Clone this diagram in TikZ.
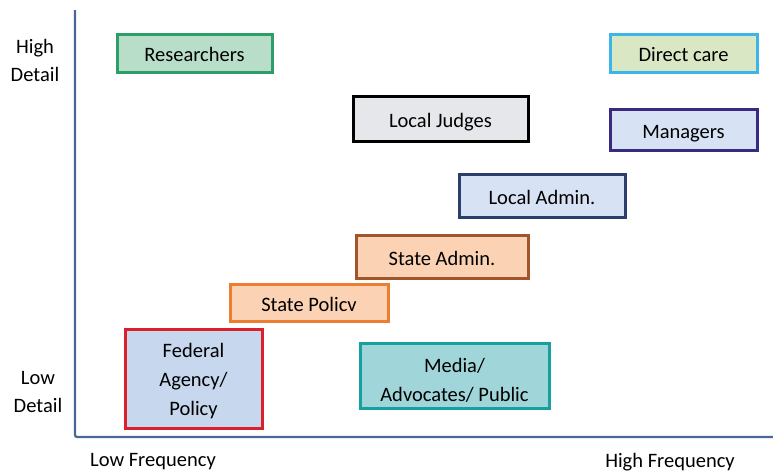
\documentclass[tikz,border=0pt]{standalone}
\usepackage{fontspec}
\setmainfont{Carlito}
\usetikzlibrary{positioning}
\definecolor{axisBlue}{RGB}{74,104,150}
\definecolor{resLine}{RGB}{46,158,104}
\definecolor{resFill}{RGB}{184,222,202}
\definecolor{careLine}{RGB}{60,182,232}
\definecolor{careFill}{RGB}{218,231,196}
\definecolor{judgeFill}{RGB}{230,231,235}
\definecolor{mgrLine}{RGB}{56,42,128}
\definecolor{paleBlue}{RGB}{215,226,244}
\definecolor{adminLine}{RGB}{46,62,108}
\definecolor{stateFill}{RGB}{251,211,180}
\definecolor{stateAdmLine}{RGB}{162,84,44}
\definecolor{statePolLine}{RGB}{237,125,49}
\definecolor{fedFill}{RGB}{198,215,238}
\definecolor{fedLine}{RGB}{218,32,42}
\definecolor{mediaFill}{RGB}{160,214,218}
\definecolor{mediaLine}{RGB}{22,160,160}

\begin{document}
\begin{tikzpicture}[x=1pt, y=-1pt,
    box/.style 2 args={draw=#1, fill=#2, line width=3pt, align=center,
        inner sep=0pt, text height=17pt, text depth=0pt,
        font=\fontsize{20.5}{29}\selectfont},
    boxtext/.style={align=center, inner sep=0pt, font=\fontsize{20.5}{29}\selectfont},
    axislabel/.style={align=center, font=\fontsize{20.5}{28}\selectfont}]
    \useasboundingbox (0,0) rectangle (773,472);

    % Axes
    \coordinate (top) at (75,10);
    \coordinate (corner) at (75,437);
    \coordinate (right) at (773,437);
    \draw[axisBlue, line width=2.2pt, rounded corners=2pt] (top) -- (corner) -- (right);

    % Axis labels
    \node[axislabel] (highDetail) at (35,60) {High\\Detail};
    \node[axislabel] (lowDetail) at (38,392) {Low\\Detail};
    \node[axislabel] (lowFreq) at (153,462) {Low Frequency};
    \node[axislabel] (highFreq) at (670,462) {High Frequency};

    % Groups
    \node[box={resLine}{resFill}, minimum width=155pt, minimum height=38pt] (researchers) at (194.5,53) {Researchers};
    \node[box={careLine}{careFill}, minimum width=147pt, minimum height=38pt] (directCare) at (683.5,53) {Direct care};
    \node[box={black}{judgeFill}, minimum width=175pt, minimum height=45pt] (localJudges) at (440.5,118.5) {Local Judges};
    \node[box={mgrLine}{paleBlue}, minimum width=147pt, minimum height=41pt] (managers) at (683.5,129.5) {Managers};
    \node[box={adminLine}{paleBlue}, minimum width=166pt, minimum height=43pt] (localAdmin) at (542,195.5) {Local Admin.};
    \node[box={stateAdmLine}{stateFill}, minimum width=172pt, minimum height=43pt] (stateAdmin) at (442,256.5) {State Admin.};
    \node[box={statePolLine}{stateFill}, minimum width=158pt, minimum height=37pt] (statePolicy) at (309,302.5) {State Policv};

    % two-line and three-line groups: text set apart, a little low
    \node[box={fedLine}{fedFill}, minimum width=137pt, minimum height=99pt] (federal) at (193.5,378.5) {};
    \node[boxtext, yshift=-3pt] (federalText) at (federal) {Federal\\Agency/\\Policy};
    \node[box={mediaLine}{mediaFill}, minimum width=189pt, minimum height=65pt] (media) at (454.5,375.5) {};
    \node[boxtext, yshift=-5pt] (mediaText) at (media) {Media/\\Advocates/ Public};
\end{tikzpicture}
\end{document}
